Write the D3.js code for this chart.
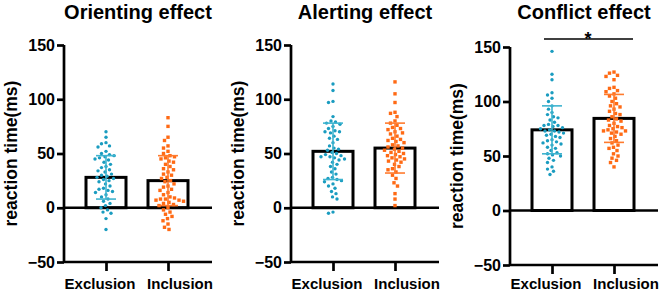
<!DOCTYPE html>
<html lang="en">
  <head>
    <meta charset="utf-8">
    <title>Attention network effects</title>
    <script type="text/javascript" src="https://cdn.jsdelivr.net/npm/d3@7/dist/d3.min.js"></script>
    <style>
      body { margin: 0; background: #fff; }
      text { font-family: "Liberation Sans", Arial, sans-serif; font-weight: bold; fill: #000; }
      .axis path, .axis line { stroke: #000; stroke-width: 2.7; }
    </style>
  </head>
  <body>
    <script type="text/javascript">

    //Data
    var titles = ["Orienting effect", "Alerting effect", "Conflict effect"];
    var groups = ["Exclusion", "Inclusion"];
    var yTicks = [-50, 0, 50, 100, 150];

    var means = [[28, 25], [52, 55], [74, 84.5]];
    var sds = [[20, 23], [26, 23], [22, 22]];

    var orientExcl = [70, 65, 60, 59, 57, 56, 52, 50, 49, 48, 47, 46, 45, 44, 42, 40, 38, 37, 35, 34, 33, 31, 30, 29, 28, 27, 26, 25, 24, 22, 20, 18, 17, 16, 15, 14, 12, 10, 8, 6, 4, 2, 0, -2, -4, -5, -10, -20];
    var orientIncl = [83, 75, 65, 62, 57, 55, 52, 50, 48, 47, 46, 45, 43, 42, 40, 38, 36, 35, 33, 31, 30, 28, 27, 25, 24, 22, 20, 19, 17, 16, 14, 12, 10, 9, 8, 8, 7, 7, 6, 5, 4, 3, 2, 0, -2, -4, -6, -8, -10, -12, -15, -18, -20];
    var alertExcl = [114, 108, 98, 97, 84, 80, 79, 78, 77, 75, 73, 71, 70, 70, 69, 66, 64, 63, 60, 57, 55, 54, 53, 51, 50, 49, 48, 47, 47, 46, 45, 44, 42, 40, 38, 36, 33, 31, 28, 27, 26, 25, 24, 22, 20, 18, 15, 13, 10, 8, -4, -5];
    var alertIncl = [116, 105, 97, 88, 87, 84, 80, 78, 76, 74, 73, 72, 70, 69, 68, 66, 64, 63, 62, 61, 60, 58, 57, 56, 55, 54, 53, 52, 51, 50, 49, 48, 47, 46, 45, 44, 43, 42, 40, 38, 36, 35, 33, 30, 27, 23, 20, 13, 8, 2];
    var conflictExcl = [146, 125, 120, 108, 106, 103, 100, 96, 93, 90, 88, 86, 85, 83, 81, 79, 78, 78, 77, 76, 75, 74, 73, 73, 72, 71, 70, 69, 68, 67, 65, 64, 63, 62, 61, 60, 58, 57, 55, 53, 52, 51, 50, 48, 46, 44, 40, 38, 36, 33];
    var conflictIncl = [127, 126, 124, 123, 120, 113, 112, 110, 109, 107, 105, 103, 100, 98, 96, 95, 93, 91, 89, 88, 86, 84, 83, 82, 80, 78, 77, 76, 75, 74, 73, 73, 72, 71, 70, 68, 66, 64, 62, 60, 58, 57, 55, 52, 50, 48, 46, 44, 40];

    var points = [[orientExcl, orientIncl], [alertExcl, alertIncl], [conflictExcl, conflictIncl]];
    var significant = [false, false, true];

    var colors = ["#1a9cc0", "#ff6a14"];
    var errColors = ["#3fb4cf", "#ff7b2e"];

    //Layout of each panel
    var panels = [
      {x: 64, top: 45, bottom: 262},
      {x: 291, top: 45, bottom: 262},
      {x: 510, top: 47, bottom: 265}
    ];
    var plotW = 148;
    var barW = 40;
    var labelShift = [-6, 12];   //category labels sit a little off their ticks

    var svg = d3.select("body").append("svg")
      .attr("width", 660)
      .attr("height", 295);

    //Simple beeswarm: place each dot at the smallest side offset that does not overlap
    function swarm(vals, yScale, cx, minDist) {
      var placed = [];
      var sorted = vals.slice().sort(function(a, b) { return b - a; });
      sorted.forEach(function(v) {
        var y = yScale(v);
        var off = 0, step = 0.5, k = 0;
        while (true) {
          var cand = (k % 2 === 0 ? 1 : -1) * Math.ceil(k / 2) * step;
          var ok = placed.every(function(p) {
            var dx = p.x - (cx + cand), dy = p.y - y;
            return dx * dx + dy * dy >= minDist * minDist;
          });
          if (ok) { off = cand; break; }
          k++;
        }
        placed.push({x: cx + off, y: y});
      });
      return placed;
    }

    panels.forEach(function(p, i) {
      var g = svg.append("g");

      var yScale = d3.scaleLinear().domain([-50, 150]).range([p.bottom, p.top]);
      var xScale = d3.scalePoint().domain(groups).range([p.x + 42, p.x + 104]);

      //Y axis
      var yAxis = d3.axisLeft(yScale).tickValues(yTicks).tickSize(7).tickPadding(2).tickSizeOuter(0);
      var ya = g.append("g").attr("class", "axis")
        .attr("transform", "translate(" + p.x + ",0)")
        .call(yAxis);
      ya.selectAll("text").style("font-size", "16px").style("font-family", "'Liberation Sans', Arial, sans-serif").style("font-weight", "bold");
      ya.select(".domain").attr("d", "M0," + p.top + "V" + p.bottom);

      //Bottom axis at -50
      var xAxis = d3.axisBottom(xScale).tickSize(9).tickSizeOuter(0).tickFormat("");
      var xa = g.append("g").attr("class", "axis")
        .attr("transform", "translate(0," + p.bottom + ")")
        .call(xAxis);
      xa.select(".domain").attr("d", "M" + p.x + ",0H" + (p.x + plotW));

      //Category labels
      g.selectAll("text.cat")
        .data(groups)
        .enter()
        .append("text")
        .attr("class", "cat")
        .attr("x", function(d, j) { return xScale(d) + labelShift[j]; })
        .attr("y", 289)
        .attr("text-anchor", "middle")
        .style("font-size", "15px")
        .text(function(d) { return d; });

      //Bars
      g.selectAll("rect.bar")
        .data(groups)
        .enter()
        .append("rect")
        .attr("class", "bar")
        .attr("x", function(d) { return xScale(d) - barW / 2; })
        .attr("y", function(d, j) { return yScale(means[i][j]); })
        .attr("width", barW)
        .attr("height", function(d, j) { return yScale(0) - yScale(means[i][j]); })
        .attr("fill", "#fff")
        .attr("stroke", "#000")
        .attr("stroke-width", 3);

      //Zero line
      g.append("line")
        .attr("x1", p.x).attr("x2", p.x + plotW)
        .attr("y1", yScale(0)).attr("y2", yScale(0))
        .attr("stroke", "#000").attr("stroke-width", 2.7);

      //Points
      groups.forEach(function(grp, j) {
        var pos = swarm(points[i][j], yScale, xScale(grp), 4.6);
        if (j === 0) {
          g.selectAll(null).data(pos).enter().append("circle")
            .attr("cx", function(d) { return d.x; })
            .attr("cy", function(d) { return d.y; })
            .attr("r", 1.7)
            .attr("fill", colors[0]);
        } else {
          g.selectAll(null).data(pos).enter().append("rect")
            .attr("x", function(d) { return d.x - 1.7; })
            .attr("y", function(d) { return d.y - 1.7; })
            .attr("width", 3.4).attr("height", 3.4)
            .attr("fill", colors[1]);
        }

        //Error bar (mean +/- SD)
        var cx = xScale(grp);
        var hi = yScale(means[i][j] + sds[i][j]);
        var lo = yScale(means[i][j] - sds[i][j]);
        g.append("line").attr("x1", cx).attr("x2", cx).attr("y1", hi).attr("y2", lo)
          .attr("stroke", errColors[j]).attr("stroke-width", 1.6);
        [hi, lo].forEach(function(yy) {
          g.append("line").attr("x1", cx - 10).attr("x2", cx + 10).attr("y1", yy).attr("y2", yy)
            .attr("stroke", errColors[j]).attr("stroke-width", 1.6);
        });
      });

      //Title
      g.append("text")
        .attr("x", p.x + 74).attr("y", 19)
        .attr("text-anchor", "middle")
        .style("font-size", "20px")
        .text(titles[i]);

      //Y label
      g.append("text")
        .attr("transform", "translate(" + (p.x - 47) + "," + ((p.top + p.bottom) / 2) + ") rotate(-90)")
        .attr("text-anchor", "middle")
        .style("font-size", "17.5px")
        .text("reaction time(ms)");

      //Significance bracket
      if (significant[i]) {
        g.append("line")
          .attr("x1", xScale(groups[0]) - 8).attr("x2", xScale(groups[1]) + 19)
          .attr("y1", p.top - 8).attr("y2", p.top - 8)
          .attr("stroke", "#000").attr("stroke-width", 1.5);
        g.append("text")
          .attr("x", (xScale(groups[0]) + xScale(groups[1])) / 2 + 5).attr("y", p.top - 2)
          .attr("text-anchor", "middle")
          .style("font-size", "18px")
          .text("*");
      }
    });

    </script>
  </body>
</html>
